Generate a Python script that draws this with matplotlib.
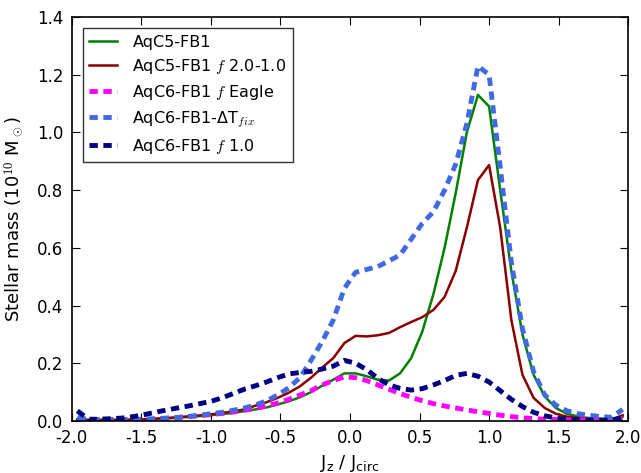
import numpy as np
import matplotlib
matplotlib.use('Agg')
import matplotlib.pyplot as plt

# bin centres of the Jz/Jcirc histogram (50 bins over -2..2)
jz = np.arange(-1.96, 2.0, 0.08)

aqc5 = [0.004, 0.003, 0.003, 0.003, 0.003, 0.004, 0.005, 0.007, 0.009, 0.011,
        0.014, 0.017, 0.020, 0.024, 0.028, 0.034, 0.040, 0.047, 0.057, 0.068,
        0.082, 0.100, 0.122, 0.143, 0.165, 0.165, 0.155, 0.143, 0.140, 0.165,
        0.218, 0.310, 0.440, 0.600, 0.790, 1.000, 1.130, 1.090, 0.800, 0.520,
        0.300, 0.160, 0.085, 0.045, 0.025, 0.015, 0.010, 0.007, 0.006, 0.015]

aqc5_f = [0.006, 0.004, 0.004, 0.004, 0.004, 0.005, 0.006, 0.008, 0.010, 0.013,
          0.016, 0.019, 0.023, 0.028, 0.033, 0.040, 0.053, 0.065, 0.080, 0.098,
          0.120, 0.150, 0.185, 0.218, 0.270, 0.295, 0.293, 0.297, 0.305, 0.325,
          0.343, 0.360, 0.385, 0.430, 0.520, 0.670, 0.835, 0.887, 0.670, 0.350,
          0.160, 0.080, 0.045, 0.025, 0.015, 0.010, 0.007, 0.005, 0.004, 0.020]

aqc6_eagle = [0.005, 0.004, 0.004, 0.004, 0.004, 0.004, 0.005, 0.007, 0.009, 0.012,
              0.015, 0.018, 0.022, 0.026, 0.031, 0.037, 0.044, 0.052, 0.062, 0.075,
              0.090, 0.105, 0.125, 0.140, 0.153, 0.150, 0.140, 0.125, 0.110, 0.095,
              0.082, 0.070, 0.060, 0.052, 0.045, 0.038, 0.032, 0.026, 0.020, 0.015,
              0.011, 0.008, 0.006, 0.005, 0.004, 0.004, 0.004, 0.004, 0.004, 0.010]

aqc6_dt = [0.012, 0.006, 0.005, 0.005, 0.005, 0.005, 0.006, 0.008, 0.010, 0.012,
           0.016, 0.020, 0.025, 0.030, 0.037, 0.045, 0.055, 0.070, 0.090, 0.115,
           0.150, 0.210, 0.275, 0.350, 0.460, 0.515, 0.525, 0.535, 0.555, 0.575,
           0.630, 0.685, 0.725, 0.800, 0.890, 1.030, 1.230, 1.200, 0.880, 0.550,
           0.320, 0.170, 0.090, 0.055, 0.035, 0.025, 0.020, 0.015, 0.013, 0.040]

aqc6_f1 = [0.035, 0.006, 0.006, 0.008, 0.010, 0.015, 0.022, 0.030, 0.038, 0.045,
           0.052, 0.060, 0.068, 0.080, 0.095, 0.110, 0.122, 0.135, 0.150, 0.163,
           0.168, 0.172, 0.180, 0.190, 0.210, 0.200, 0.178, 0.148, 0.125, 0.113,
           0.107, 0.112, 0.125, 0.140, 0.158, 0.165, 0.155, 0.135, 0.105, 0.075,
           0.050, 0.030, 0.018, 0.010, 0.006, 0.004, 0.003, 0.003, 0.003, 0.012]

plt.rcParams.update({
    'font.size': 12,
    'mathtext.fontset': 'cm',
    'lines.scale_dashes': False,
    'xtick.direction': 'in',
    'ytick.direction': 'in',
    'xtick.top': True,
    'ytick.right': True,
    'xtick.major.size': 6,
    'ytick.major.size': 6,
    'xtick.major.pad': 6,
    'ytick.major.pad': 6,
})

fig = plt.figure(figsize=(6.41, 4.73), dpi=100)
ax = fig.add_axes([0.112, 0.11, 0.868, 0.854])

ax.plot(jz, aqc5, color='green', lw=1.8, label='AqC5-FB1')
ax.plot(jz, aqc5_f, color='#8B0000', lw=1.8, label='AqC5-FB1 $f$ 2.0-1.0')
ax.plot(jz, aqc6_eagle, color='magenta', lw=3.5, dashes=(6, 4), label='AqC6-FB1 $f$ Eagle')
ax.plot(jz, aqc6_dt, color='#4169E1', lw=3.5, dashes=(6, 4), label='AqC6-FB1-\u0394T$_{fix}$')
ax.plot(jz, aqc6_f1, color='#000080', lw=3.5, dashes=(6, 4), label='AqC6-FB1 $f$ 1.0')

ax.set_xlim(-2.0, 2.0)
ax.set_ylim(0.0, 1.4)
ax.set_xticks(np.arange(-2.0, 2.01, 0.5))
ax.set_yticks(np.arange(0.0, 1.41, 0.2))
ax.xaxis.set_major_formatter(matplotlib.ticker.FormatStrFormatter('%.1f'))
ax.yaxis.set_major_formatter(matplotlib.ticker.FormatStrFormatter('%.1f'))
for sp in ax.spines.values():
    sp.set_linewidth(1.2)

ax.set_xlabel(r'$\mathregular{J_z\ /\ J_{circ}}$', fontsize=13, labelpad=4)
ax.set_ylabel(r'Stellar mass (10$^{10}$ M$_\odot$)', fontsize=13, labelpad=8)

leg = ax.legend(loc='upper left', fontsize=11.5, fancybox=False, framealpha=1,
                borderaxespad=0.7, handlelength=1.7, handletextpad=1.0,
                labelspacing=0.45)
leg.get_frame().set_edgecolor('#333333')
leg.get_frame().set_linewidth(1.0)

fig.savefig('out.png', dpi=100)
